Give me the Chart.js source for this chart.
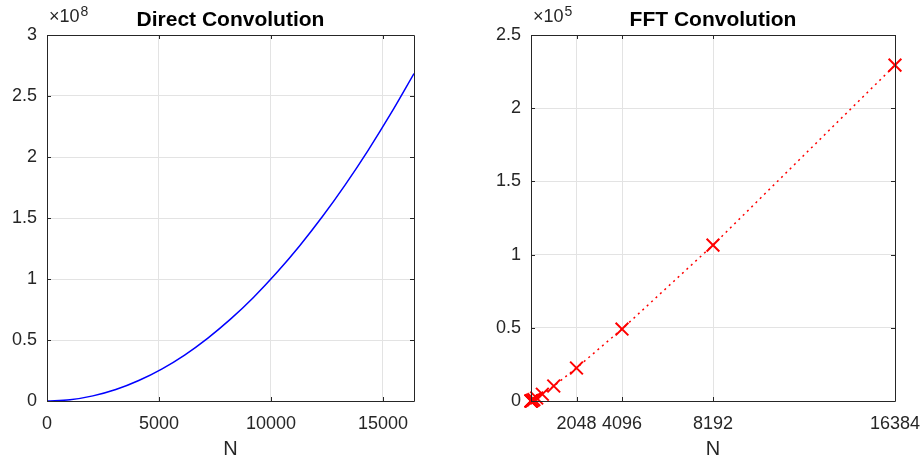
<!DOCTYPE html>
<html lang="en">
<head>
<meta charset="UTF-8">
<title>Direct vs FFT convolution</title>
<script src="https://cdn.jsdelivr.net/npm/chart.js"></script>
<style>
  html, body { margin: 0; padding: 0; background: #fff; }
  .box { position: absolute; top: 0; width: 460px; height: 461px; }
</style>
</head>
<body>
<div class="box" style="left:0"><canvas id="direct" width="460" height="461"></canvas></div>
<div class="box" style="left:460px"><canvas id="fft" width="460" height="461"></canvas></div>

<script>
// direct convolution: operations vs N
const directN = [0, 1024, 2048, 3072, 4096, 5120, 6144, 7168, 8192, 9216, 10240, 11264, 12288, 13312, 14336, 15360, 16384];
const directOps = [0, 1.0e6, 4.2e6, 9.4e6, 16.8e6, 26.2e6, 37.7e6, 51.4e6, 67.1e6, 84.9e6, 104.9e6, 126.9e6, 151.0e6, 177.2e6, 205.5e6, 235.9e6, 268.4e6];

// fft convolution: one marker per power of two
const fftN = [1, 2, 4, 8, 16, 32, 64, 128, 256, 512, 1024, 2048, 4096, 8192, 16384];
const fftOps = [0, 2, 8, 24, 64, 160, 384, 896, 2048, 4608, 10240, 22528, 49152, 106496, 229376];

const directXTicks = [0, 5000, 10000, 15000];
const fftXTicks = [2048, 4096, 8192, 16384];

const FONT = "'Liberation Sans', Arial, Helvetica, sans-serif";
const INK = '#262626';
const GRID = '#e3e3e3';

// matlab-ish axes box, inward ticks, title and exponent
const matlabBox = {
  id: 'matlabBox',
  afterDraw(chart, args, opts) {
    const ctx = chart.ctx;
    const a = chart.chartArea;
    const xs = chart.scales.x, ys = chart.scales.y;
    ctx.save();
    ctx.strokeStyle = INK;
    ctx.lineWidth = 1;
    ctx.beginPath();
    ctx.rect(Math.round(a.left) + 0.5, Math.round(a.top) + 0.5,
      Math.round(a.right) - Math.round(a.left), Math.round(a.bottom) - Math.round(a.top));
    ctx.stroke();
    // inward ticks
    const tl = 4;
    ctx.beginPath();
    xs.ticks.forEach(t => {
      const px = Math.round(xs.getPixelForValue(t.value)) + 0.5;
      ctx.moveTo(px, a.bottom); ctx.lineTo(px, a.bottom - tl);
      ctx.moveTo(px, a.top); ctx.lineTo(px, a.top + tl);
    });
    ys.ticks.forEach(t => {
      const py = Math.round(ys.getPixelForValue(t.value)) + 0.5;
      ctx.moveTo(a.left, py); ctx.lineTo(a.left + tl, py);
      ctx.moveTo(a.right, py); ctx.lineTo(a.right - tl, py);
    });
    ctx.stroke();

    ctx.fillStyle = '#000';
    ctx.font = 'bold 21px ' + FONT;
    ctx.textAlign = 'center';
    ctx.textBaseline = 'alphabetic';
    ctx.fillText(opts.title, (a.left + a.right) / 2, 26);

    ctx.fillStyle = INK;
    ctx.textAlign = 'left';
    ctx.font = '18px ' + FONT;
    const base = '\u00d710';
    ctx.fillText(base, a.left + 2, 22);
    const w = ctx.measureText(base).width;
    ctx.font = '14px ' + FONT;
    ctx.fillText(opts.exp, a.left + 2 + w + 1, 16);
    ctx.restore();
  }
};

function makeChart(id, datasets, xTicks, yMax, yStep, yScale, titleText, expText, yWidth, padRight) {
  return new Chart(document.getElementById(id), {
    type: 'line',
    data: { datasets: datasets },
    options: {
      responsive: false,
      animation: false,
      layout: { padding: { left: 0, top: 35, right: padRight, bottom: 0 } },
      plugins: {
        legend: { display: false },
        tooltip: { enabled: false },
        matlabBox: { title: titleText, exp: expText }
      },
      scales: {
        x: {
          type: 'linear',
          min: 0,
          max: 16384,
          afterBuildTicks: s => { s.ticks = xTicks.map(v => ({ value: v })); },
          afterFit: s => { s.height = 60; s.paddingLeft = 0; s.paddingRight = 0; },
          grid: { color: GRID, drawTicks: false },
          border: { display: false },
          ticks: {
            color: INK, padding: 12, maxRotation: 0, autoSkip: false,
            font: { family: FONT, size: 18 },
            callback: v => String(v)
          },
          title: {
            display: true, text: 'N', color: INK,
            font: { family: FONT, size: 20 }, padding: { top: 0, bottom: 0 }
          }
        },
        y: {
          min: 0,
          max: yMax,
          afterBuildTicks: s => {
            const t = [];
            for (let v = 0; v <= yMax + 1e-9; v += yStep) t.push({ value: v });
            s.ticks = t;
          },
          afterFit: s => { s.width = yWidth; s.paddingTop = 0; s.paddingBottom = 0; },
          grid: { color: GRID, drawTicks: false },
          border: { display: false },
          ticks: {
            color: INK, padding: 10,
            font: { family: FONT, size: 18 },
            callback: v => String(Math.round(v / yScale * 10) / 10)
          }
        }
      }
    },
    plugins: [matlabBox]
  });
}

makeChart('direct', [{
  data: directN.map((n, i) => ({ x: n, y: directOps[i] })),
  borderColor: '#0000ff',
  borderWidth: 1.5,
  pointRadius: 0,
  cubicInterpolationMode: 'monotone',
  fill: false
}], directXTicks, 3e8, 0.5e8, 1e8, 'Direct Convolution', '8', 47, 46);

makeChart('fft', [{
  data: fftN.map((n, i) => ({ x: n, y: fftOps[i] })),
  borderColor: '#ff0000',
  borderWidth: 1.5,
  borderDash: [2, 4],
  pointStyle: 'crossRot',
  pointRadius: 9,
  pointBorderColor: '#ff0000',
  pointBorderWidth: 2,
  clip: false,
  fill: false
}], fftXTicks, 2.5e5, 0.5e5, 1e5, 'FFT Convolution', '5', 71, 25);
</script>
</body>
</html>
